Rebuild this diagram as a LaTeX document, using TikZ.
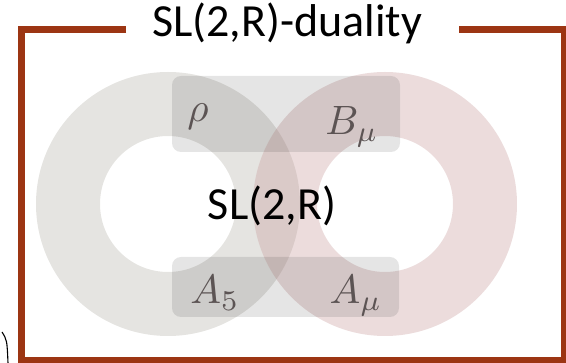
\RequirePackage{fix-cm}
\documentclass[tikz,border=0pt]{standalone}
\usepackage{graphicx}
\usepackage{fontspec}
\setmainfont{Carlito}
\definecolor{framecol}{HTML}{9C3513}
\definecolor{ringgray}{HTML}{E5E4E1}
\definecolor{ringpink}{HTML}{C89C9C}
\definecolor{labcol}{HTML}{5C5454}
\newcommand{\biglab}[1]{\scalebox{4.1}{$#1$}}
\tikzset{
  frameline/.style={draw=framecol, line width=7pt},
  grayring/.style={fill=ringgray, even odd rule},
  pinkring/.style={fill=ringpink, fill opacity=0.35, even odd rule},
  bandbox/.style={fill=black, fill opacity=0.10, rounded corners=9pt},
  varlabel/.style={text=labcol, anchor=base, inner sep=0pt, font=\fontsize{10}{12}\selectfont},
  bigtext/.style={text=black, anchor=base, inner sep=0pt, font=\fontsize{46}{52}\selectfont}
}
\begin{document}
\begin{tikzpicture}[x=1pt,y=-1pt]
\useasboundingbox (0,0) rectangle (566,363);
% rings
\fill[grayring] (168,204) circle (132) (168,204) circle (68);
\fill[pinkring] (385,204) circle (132) (385,204) circle (68);
% translucent bands
\fill[bandbox] (172,76) rectangle (400,152);
\fill[bandbox] (172,257) rectangle (399,317);
% labels
\node[varlabel] (rho) at (198,122) {\biglab{\rho}};
\node[varlabel] (bmu) at (352,135) {\biglab{B_\mu}};
\node[varlabel] (afive) at (215,304) {\biglab{A_5}};
\node[varlabel] (amu) at (356,304) {\biglab{A_\mu}};
\node[bigtext] (center) at (272,220) {SL(2,R)};
% frame
\node[bigtext] (title) at (287,37) {SL(2,R)-duality};
\coordinate (tl) at (21,29.5);
\coordinate (tr) at (564,29.5);
\coordinate (bl) at (21,361);
\coordinate (br) at (564,361);
\coordinate (gapl) at (126,29.5);
\coordinate (gapr) at (459,29.5);
\draw[frameline, line join=miter] (gapl) -- (tl) -- (bl) -- (br) -- (tr) -- (gapr);
% small stray curve
\coordinate (s1) at (2,332);
\coordinate (s2) at (8,363);
\draw[black, line width=1.1pt] (s1) .. controls (7,340) .. (s2);
\end{tikzpicture}
\end{document}
